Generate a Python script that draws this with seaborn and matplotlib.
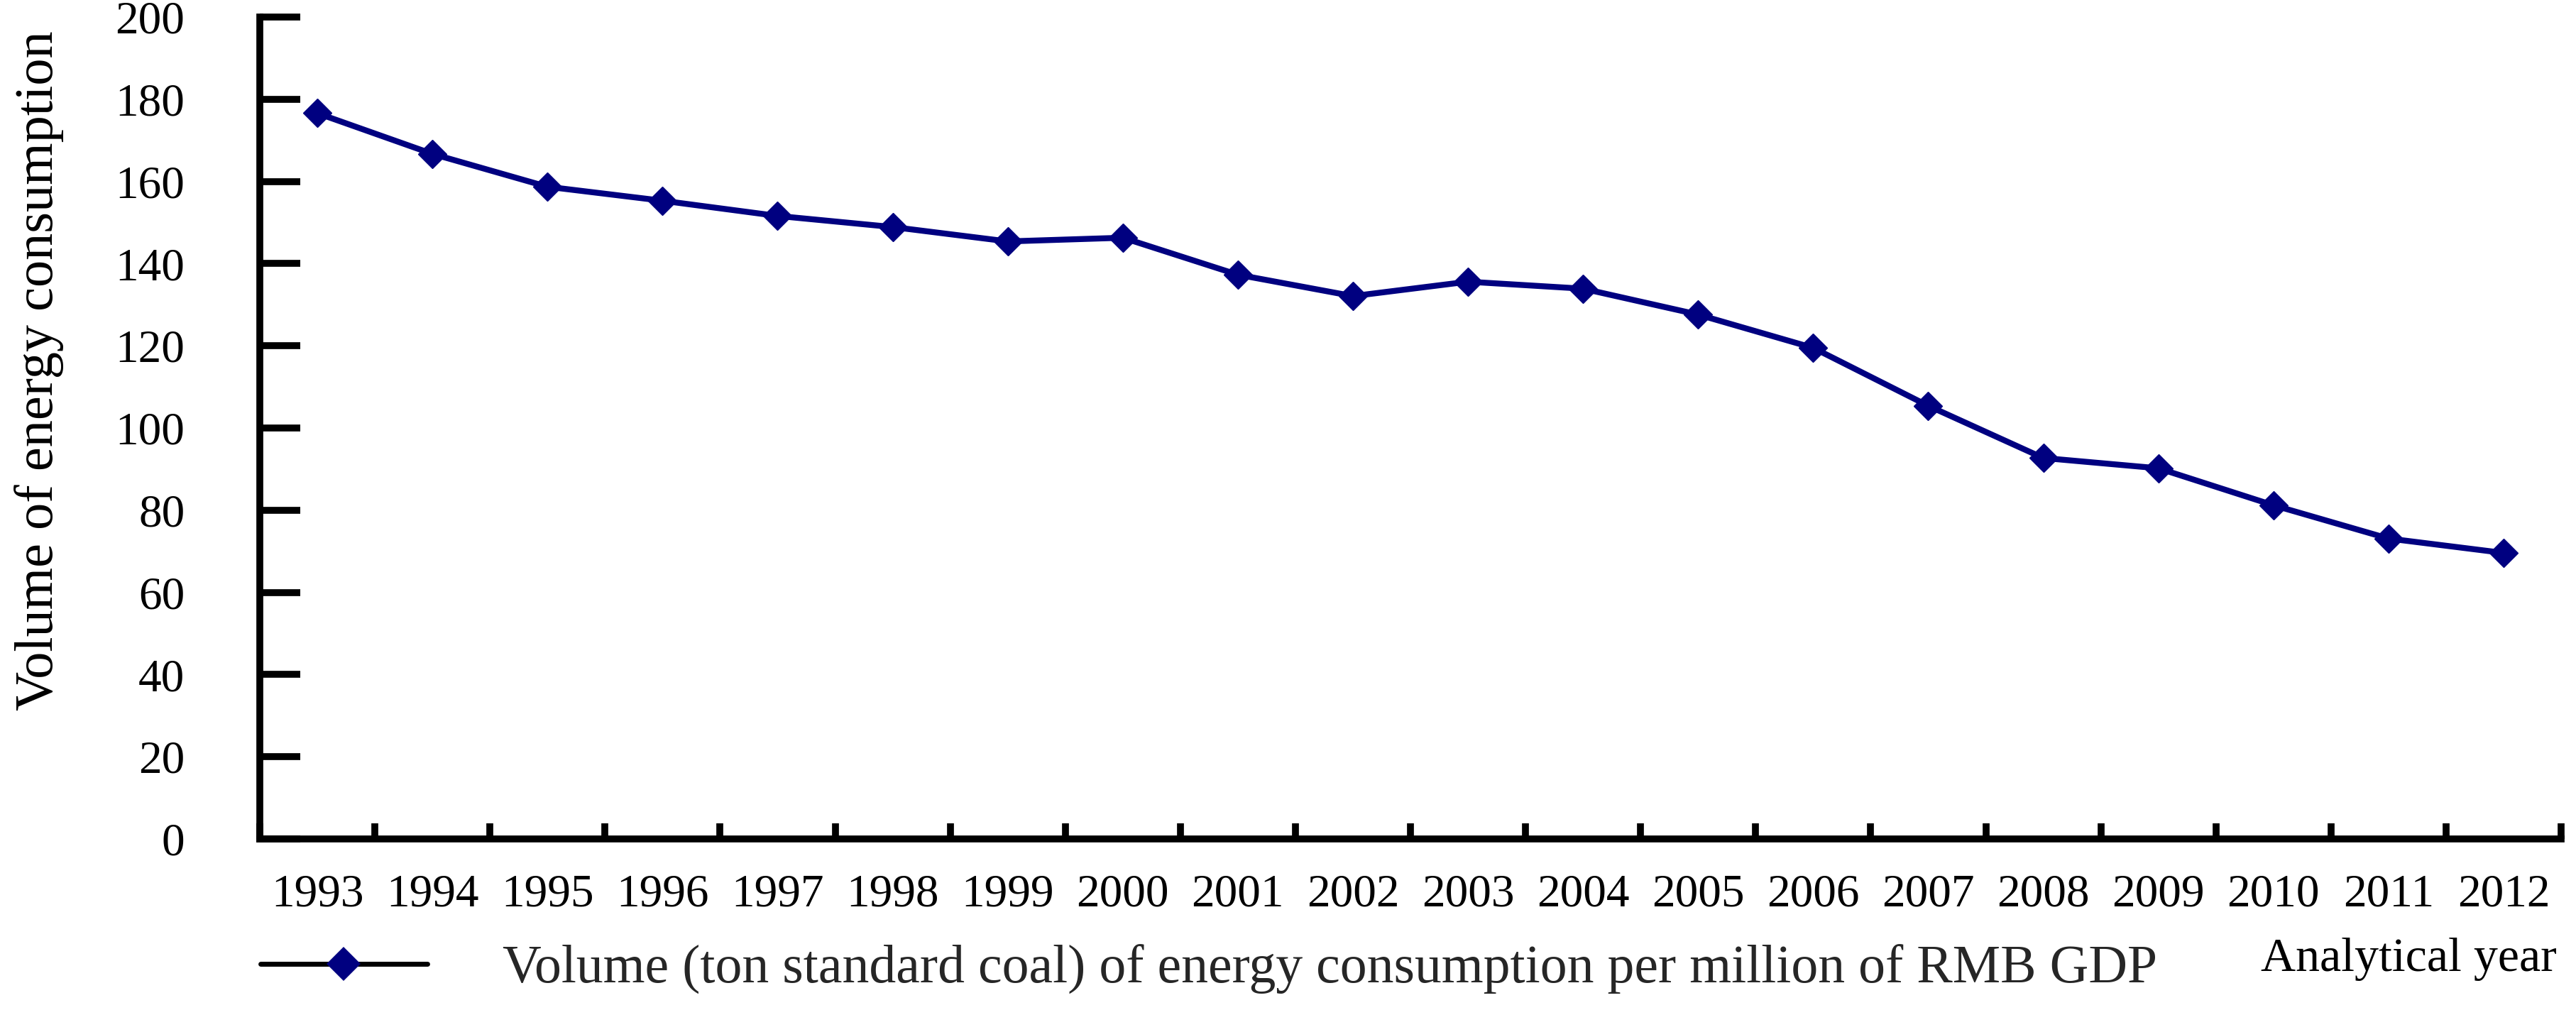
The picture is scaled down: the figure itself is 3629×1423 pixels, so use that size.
import numpy as np
import pandas as pd
import matplotlib
matplotlib.use("Agg")
import matplotlib.pyplot as plt
from matplotlib.lines import Line2D
import seaborn as sns

# ---- data ----
years = ["1993", "1994", "1995", "1996", "1997", "1998", "1999", "2000", "2001", "2002",
         "2003", "2004", "2005", "2006", "2007", "2008", "2009", "2010", "2011", "2012"]
values = [176.6, 166.7, 158.7, 155.3, 151.6, 148.9, 145.4, 146.3, 137.3, 132.1,
          135.6, 133.9, 127.6, 119.5, 105.4, 92.7, 90.2, 81.2, 73.1, 69.6]
y_ticks = [0, 20, 40, 60, 80, 100, 120, 140, 160, 180, 200]
series_label = "Volume (ton standard coal) of energy consumption per million of RMB GDP"
y_label = "Volume of energy consumption"
x_label = "Analytical year"

LINE_COLOR = "#000080"

sns.set_style("ticks")
plt.rcParams["font.family"] = ["Liberation Serif", "DejaVu Serif"]

W, H, DPI = 3630, 1423, 100
fig = plt.figure(figsize=(W / DPI, H / DPI), dpi=DPI)
x0, x1, ytop, ybot = 366, 3608, 24, 1182
ax = fig.add_axes([x0 / W, 1 - ybot / H, (x1 - x0) / W, (ybot - ytop) / H])

df = pd.DataFrame({"pos": np.arange(len(years)), "year": years, "value": values})
sns.lineplot(data=df, x="pos", y="value", ax=ax, color=LINE_COLOR, linewidth=6,
             marker="D", markersize=20, markeredgecolor=LINE_COLOR,
             markerfacecolor=LINE_COLOR, markeredgewidth=1, legend=False)

n = len(years)
ax.set_xlim(-0.5, n - 0.5)
ax.set_ylim(y_ticks[0], y_ticks[-1])

# x: boundary ticks (major, no labels) and centered labels (minor, no tick mark)
ax.set_xticks(np.arange(n + 1) - 0.5)
ax.set_xticklabels([])
ax.set_xticks(np.arange(n), minor=True)
ax.set_xticklabels(years, minor=True)
ax.tick_params(axis="x", which="major", direction="in", length=16, width=7, color="black")
ax.tick_params(axis="x", which="minor", direction="in", length=0, pad=35,
               labelsize=47, labelcolor="black")

ax.set_yticks(y_ticks)
ax.set_yticklabels([str(v) for v in y_ticks])
ax.tick_params(axis="y", which="major", direction="in", length=41, width=7,
               color="black", pad=76, labelsize=47, labelcolor="black")

for s in ["top", "right"]:
    ax.spines[s].set_visible(False)
for s in ["left", "bottom"]:
    ax.spines[s].set_linewidth(7)
    ax.spines[s].set_color("black")

ax.set_xlabel("")
ax.set_ylabel(y_label, fontsize=55, color="black", va="center", ha="center")
ax.yaxis.set_label_coords((55 - x0) / (x1 - x0), (ybot - 522) / (ybot - ytop))

fig.text(3602 / W, 1 - 1368 / H, x_label, ha="right", va="baseline", fontsize=49, color="black")

handle = Line2D([0], [0], color="black", linewidth=5, marker="D", markersize=24,
                markerfacecolor=LINE_COLOR, markeredgecolor=LINE_COLOR, markeredgewidth=0)
fig.legend([handle], [series_label], loc="center left",
           bbox_to_anchor=(367 / W, 1 - 1366 / H), frameon=False, fontsize=54.5,
           handlelength=3.1, handletextpad=1.4, borderpad=0, borderaxespad=0)

fig.savefig("out.png", dpi=DPI, facecolor="white")
